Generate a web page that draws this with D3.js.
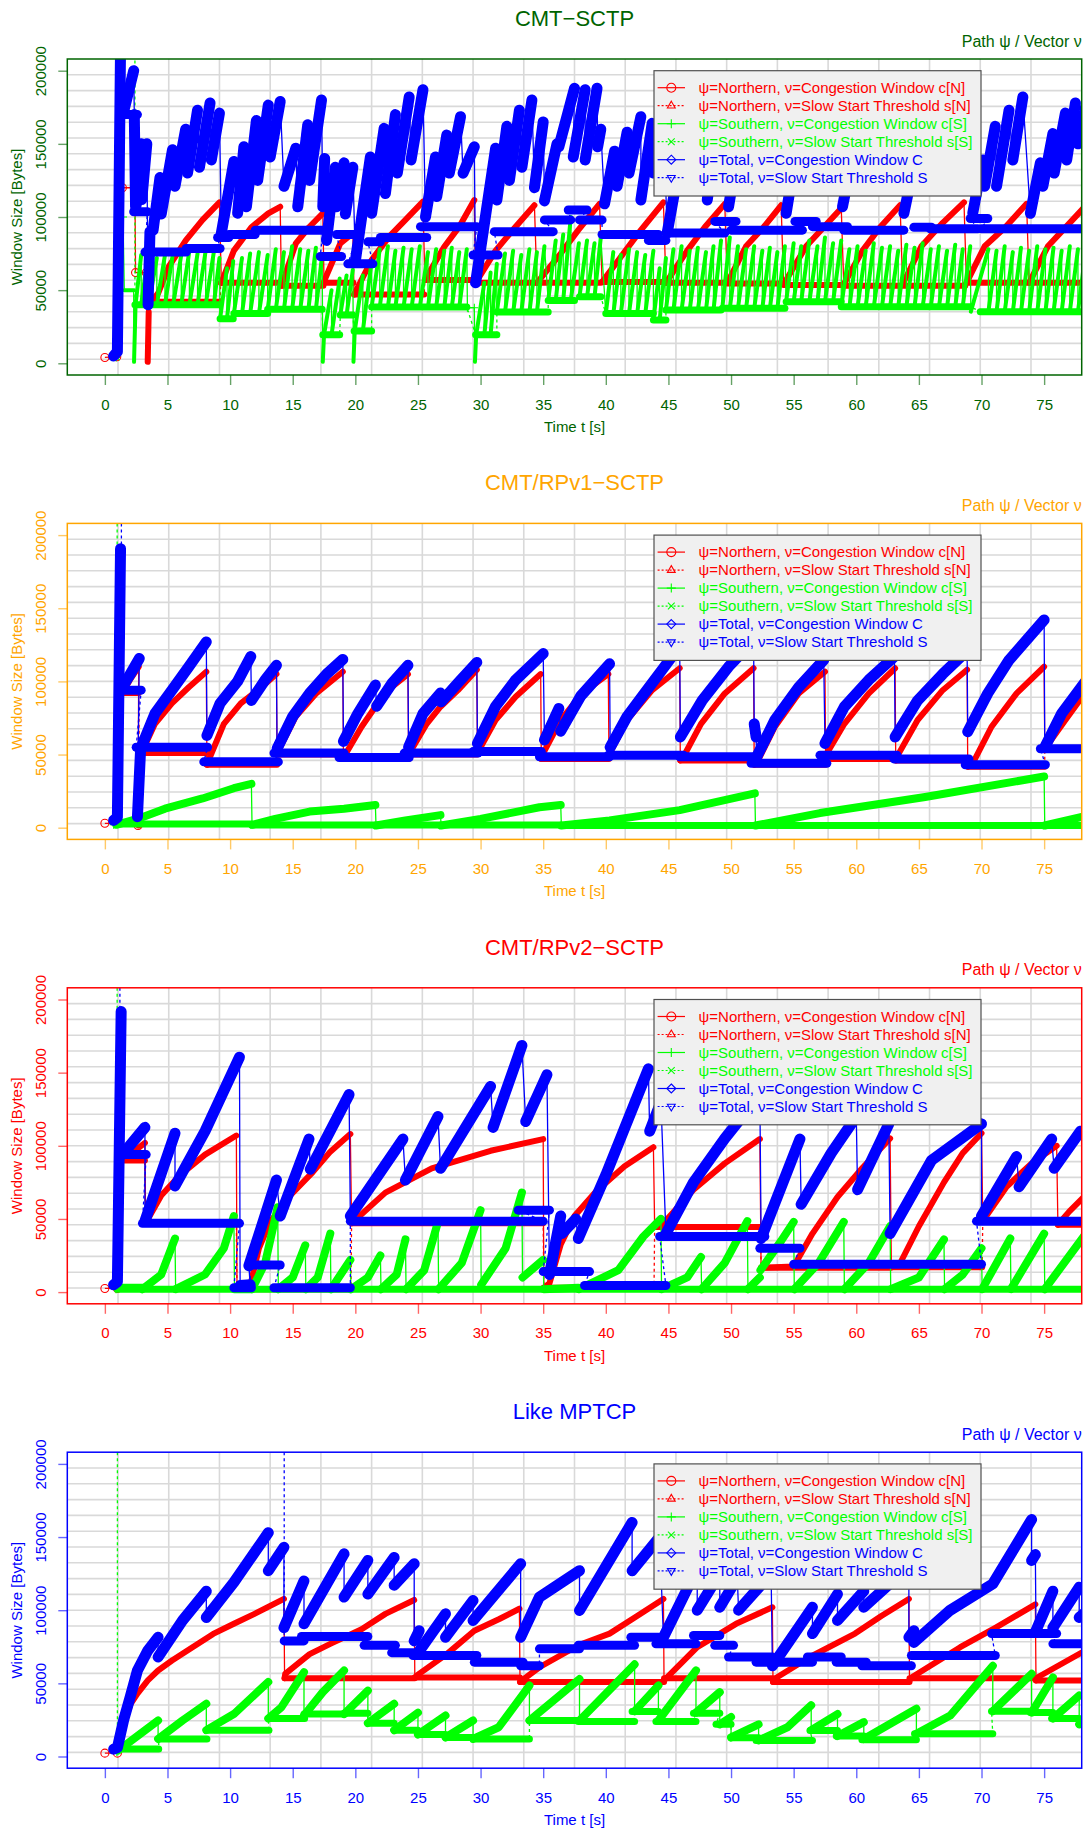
<!DOCTYPE html>
<html>
<head>
<meta charset="utf-8">
<title>Congestion window comparison</title>
<script src="https://cdn.jsdelivr.net/npm/d3@7"></script>
<style>
  body { margin: 0; background: #fff; }
</style>
</head>
<body>
<div id="chart"></div>
<script>
// axis ticks and labels
var timeTicks = [0, 5, 10, 15, 20, 25, 30, 35, 40, 45, 50, 55, 60, 65, 70, 75];
var sizeTicks = [0, 50000, 100000, 150000, 200000];
var legendLabels = [
  "\u03c8=Northern, \u03bd=Congestion Window c[N]",
  "\u03c8=Northern, \u03bd=Slow Start Threshold s[N]",
  "\u03c8=Southern, \u03bd=Congestion Window c[S]",
  "\u03c8=Southern, \u03bd=Slow Start Threshold s[S]",
  "\u03c8=Total, \u03bd=Congestion Window C",
  "\u03c8=Total, \u03bd=Slow Start Threshold S"
];
var panelTitles = ["CMT\u2212SCTP", "CMT/RPv1\u2212SCTP", "CMT/RPv2\u2212SCTP", "Like MPTCP"];
var panelColors = ["#006400", "#ffa500", "#ff0000", "#0000ff"];

// each series: list of runs of [time, bytes]; runs are joined by thin lines

// ---------- CMT-SCTP ----------
var cmtNorthCwnd = [
  [[0, 4000]], [[0.95, 4500]], [[1.35, 215000]], [[1.4, 120000]], [[2.4, 120000]],
  [[2.45, 62000]], [[3.3, 62000]],
  [[3.42, 1000], [3.5, 35000]],
  [[3.7, 42000], [4.26, 48000], [5.1, 66000], [6.46, 84000], [7.8, 98000], [9.15, 110000]],
  [[9.3, 55000], [10.3, 77000], [11.7, 93000], [13.05, 102500], [14.0, 107000]],
  [[14.1, 53000], [15.25, 82000], [16.3, 93000], [17.4, 102500]],
  [[17.5, 56000], [18.8, 82000], [19.8, 89000]],
  [[19.9, 47000], [21.3, 70600], [22.7, 86600], [24.0, 98000], [25.4, 110500]],
  [[25.55, 57000], [27.1, 79700], [28.3, 93400], [29.5, 111600]],
  [[29.6, 55000], [31.2, 77000], [32.8, 93400], [34.3, 108000]],
  [[34.5, 55000], [36.4, 75000], [37.8, 91000], [39.5, 109000]],
  [[39.7, 55500], [41.4, 75000], [42.8, 91000], [44.6, 110000]],
  [[44.8, 55000], [46.5, 77000], [47.9, 93000], [49.5, 109000]],
  [[49.7, 55000], [51.2, 80000], [52.6, 93000], [54.0, 108000]],
  [[54.2, 54000], [56.0, 80000], [57.4, 93000], [58.8, 106000]],
  [[59.0, 54000], [60.5, 77000], [61.9, 93000], [63.5, 108000]],
  [[63.7, 54000], [65.2, 80000], [66.9, 96000], [68.6, 110000]],
  [[68.8, 55000], [70.25, 80000], [71.9, 93000], [73.6, 109000]],
  [[73.8, 55000], [75.3, 80000], [78.3, 107500]]
];
var cmtNorthSsthresh = [
  [[3.5, 42000], [9.2, 42000]],
  [[9.25, 55000], [14.05, 55000]],
  [[14.1, 53000], [17.45, 53000]],
  [[17.5, 55000], [19.85, 55000]],
  [[19.9, 47000], [25.5, 47000]],
  [[25.55, 57000], [29.55, 57000]],
  [[29.6, 55000], [39.6, 55000]],
  [[39.7, 55500], [44.7, 55500]],
  [[44.8, 55000], [49.6, 55000]],
  [[49.7, 54500], [54.1, 54500]],
  [[54.2, 53500], [58.9, 53500]],
  [[59.0, 53000], [68.7, 53000]],
  [[68.8, 55000], [78.5, 55000]]
];
var cmtSouthCwnd = [
  [[0.9, 4000]],
  [[0.95, 5000], [1.2, 215000]],
  [[1.45, 100000]],
  [[1.55, 50000], [2.3, 50000]],
  [[2.33, 1000], [2.45, 40000], [2.9, 74000]],
  [[2.9, 40000], [3.5, 78000]], [[3.5, 40000], [4.15, 72000]], [[4.15, 40000], [4.8, 74000]],
  [[4.8, 40000], [5.45, 76000]], [[5.45, 40000], [6.1, 74000]], [[6.1, 40000], [6.75, 77000]],
  [[6.75, 40000], [7.4, 75000]], [[7.4, 40000], [8.05, 77000]], [[8.05, 40000], [8.7, 76000]],
  [[8.7, 40000], [9.15, 72000]],
  [[9.2, 30500], [9.75, 65000]], [[9.75, 30500], [10.25, 70000]],
  [[10.3, 34000], [10.95, 72000]], [[10.95, 34000], [11.6, 75000]], [[11.6, 34000], [12.3, 76000]],
  [[12.3, 34000], [13.0, 74000]],
  [[13.0, 37000], [13.65, 78000]], [[13.65, 37000], [14.3, 76000]], [[14.3, 37000], [14.95, 80000]],
  [[14.95, 37000], [15.6, 78000]], [[15.6, 37000], [16.25, 77000]], [[16.25, 37000], [16.85, 79000]],
  [[16.85, 37000], [17.35, 74000]],
  [[17.4, 1000], [17.5, 19500], [18.1, 50000]], [[18.1, 19500], [18.75, 58000]],
  [[18.8, 33000], [19.3, 60000]], [[19.3, 33000], [19.8, 64000]],
  [[19.85, 1000], [19.95, 22000], [20.6, 60000]], [[20.6, 22000], [21.3, 70000]],
  [[21.3, 38500], [21.95, 78000]], [[21.95, 38500], [22.6, 80000]], [[22.6, 38500], [23.2, 77000]],
  [[23.2, 38500], [23.85, 79000]], [[23.85, 38500], [24.5, 78000]], [[24.5, 38500], [25.15, 80000]],
  [[25.15, 38500], [25.8, 76000]], [[25.8, 38500], [26.45, 78000]], [[26.45, 38500], [27.1, 77000]],
  [[27.1, 38500], [27.7, 79000]], [[27.7, 38500], [28.3, 76000]], [[28.3, 38500], [28.9, 78000]],
  [[28.95, 38000]], [[29.5, 38000]],
  [[29.55, 1000], [29.65, 19500], [30.3, 55000]], [[30.3, 19500], [30.8, 62000]], [[30.8, 19500], [31.3, 68000]],
  [[31.3, 35000], [31.95, 75000]], [[31.95, 35000], [32.6, 77000]], [[32.6, 35000], [33.25, 74000]],
  [[33.25, 35000], [33.9, 78000]], [[33.9, 35000], [34.5, 76000]], [[34.5, 35000], [35.1, 80000]],
  [[35.4, 43000], [36.0, 84000]], [[36.0, 43000], [36.6, 88000]], [[36.6, 43000], [37.2, 100000]],
  [[37.2, 43000], [37.85, 82000]],
  [[37.9, 45500], [38.5, 84000]], [[38.5, 45500], [39.1, 82000]], [[39.1, 45500], [39.6, 86000]],
  [[40.0, 34000], [40.6, 76000]], [[40.6, 34000], [41.2, 74000]], [[41.2, 34000], [41.85, 78000]],
  [[41.85, 34000], [42.5, 76000]], [[42.5, 34000], [43.15, 74000]], [[43.15, 34000], [43.8, 77000]],
  [[43.8, 29600], [44.3, 65000]], [[44.3, 29600], [44.8, 72000]],
  [[44.8, 36400], [45.4, 78000]], [[45.4, 36400], [46.05, 80000]], [[46.05, 36400], [46.7, 77000]],
  [[46.7, 36400], [47.35, 79000]], [[47.35, 36400], [48.0, 76000]], [[48.0, 36400], [48.6, 80000]],
  [[48.6, 36400], [49.2, 84000]],
  [[49.3, 37600], [49.9, 86000]], [[49.9, 37600], [50.55, 80000]], [[50.55, 37600], [51.2, 78000]],
  [[51.2, 37600], [51.85, 80000]], [[51.85, 37600], [52.5, 77000]], [[52.5, 37600], [53.1, 79000]],
  [[53.1, 37600], [53.7, 76000]], [[53.7, 37600], [54.3, 80000]],
  [[54.4, 42000], [55.0, 82000]], [[55.0, 42000], [55.6, 80000]], [[55.6, 42000], [56.25, 84000]],
  [[56.25, 42000], [56.9, 80000]], [[56.9, 42000], [57.5, 86000]], [[57.5, 42000], [58.15, 82000]],
  [[58.15, 42000], [58.8, 84000]],
  [[58.8, 38700], [59.45, 78000]], [[59.45, 38700], [60.1, 80000]], [[60.1, 38700], [60.75, 77000]],
  [[60.75, 38700], [61.4, 82000]], [[61.4, 38700], [62.05, 79000]], [[62.05, 38700], [62.7, 80000]],
  [[62.7, 38700], [63.35, 77000]], [[63.35, 38700], [64.0, 81000]], [[64.0, 38700], [64.65, 79000]],
  [[64.65, 38700], [65.3, 82000]], [[65.3, 38700], [65.95, 78000]], [[65.95, 38700], [66.6, 80000]],
  [[66.6, 38700], [67.25, 77000]], [[67.25, 38700], [67.9, 81000]], [[67.9, 38700], [68.5, 78000]],
  [[68.5, 38700], [69.1, 80000]],
  [[69.15, 35300], [70.55, 78000]], [[70.55, 35300], [71.2, 77000]], [[71.2, 35300], [71.85, 80000]],
  [[71.85, 35300], [72.5, 76000]], [[72.5, 35300], [73.15, 79000]], [[73.15, 35300], [73.8, 77000]],
  [[73.8, 35300], [74.45, 80000]], [[74.45, 35300], [75.1, 78000]], [[75.1, 35300], [75.75, 79000]],
  [[75.75, 35300], [76.4, 77000]], [[76.4, 35300], [77.05, 80000]], [[77.05, 35300], [77.7, 78000]],
  [[77.7, 35300], [78.35, 79000]]
];
var cmtSouthSsthresh = [
  [[0.95, 4000]], [[2.3, 1e8]],
  [[2.4, 40000], [9.15, 40000]],
  [[9.2, 30500], [10.25, 30500]],
  [[10.3, 34000], [13.0, 34000]],
  [[13.0, 37000], [17.35, 37000]],
  [[17.4, 19500], [18.75, 19500]],
  [[18.8, 33000], [19.8, 33000]],
  [[19.9, 22000], [21.3, 22000]],
  [[21.3, 38500], [28.9, 38500]],
  [[29.6, 19500], [31.3, 19500]],
  [[31.3, 35000], [35.4, 35000]],
  [[35.4, 43000], [37.5, 43000]],
  [[37.9, 45500], [39.6, 45500]],
  [[40.0, 34000], [43.8, 34000]],
  [[43.8, 29600], [44.8, 29600]],
  [[44.8, 36400], [49.2, 36400]],
  [[49.3, 37600], [54.3, 37600]],
  [[54.4, 42000], [58.8, 42000]],
  [[58.8, 38700], [69.1, 38700]],
  [[69.9, 35300], [78.5, 35300]]
];
var cmtTotalCwnd = [
  [[0.7, 5000], [1.0, 8000], [1.25, 215000]],
  [[1.5, 172000], [2.3, 200000]],
  [[2.35, 170000], [2.45, 107000]],
  [[2.5, 108000], [2.9, 150000]],
  [[2.95, 112000], [3.35, 150000]],
  [[3.45, 40000], [3.6, 90000]],
  [[3.85, 91000], [4.4, 127000]],
  [[4.5, 102000], [5.4, 146000]],
  [[5.6, 121000], [6.45, 160000]],
  [[6.6, 130000], [7.4, 173000]],
  [[7.55, 134000], [8.4, 178000]],
  [[8.5, 139000], [9.15, 171000]],
  [[9.3, 89000], [10.3, 138000]],
  [[10.6, 102500], [11.1, 148000]],
  [[11.3, 107000], [12.1, 166000]],
  [[12.2, 125000], [13.05, 176500]],
  [[13.2, 141000], [14.0, 179000]],
  [[14.3, 121000], [15.25, 147000]],
  [[15.4, 107000], [16.2, 163000]],
  [[16.35, 125000], [17.3, 180000]],
  [[17.4, 107000], [17.55, 140000]],
  [[17.7, 84000], [18.4, 134000]],
  [[18.5, 107000], [19.1, 137000]],
  [[19.2, 102000], [19.8, 134000]],
  [[20.0, 70000], [21.2, 141000]],
  [[21.3, 102500], [22.3, 160600]],
  [[22.4, 116000], [23.2, 170000]],
  [[23.35, 130000], [24.3, 182000]],
  [[24.45, 139000], [25.4, 187000]],
  [[25.6, 100000], [26.4, 141000]],
  [[26.5, 114000], [27.3, 156000]],
  [[27.5, 130000], [28.4, 168600]],
  [[28.6, 130000], [29.5, 148000]],
  [[29.6, 55000], [31.2, 147000]],
  [[31.3, 111600], [32.1, 162000]],
  [[32.3, 125000], [33.1, 173000]],
  [[33.3, 134000], [34.1, 180000]],
  [[34.3, 120000], [35.0, 165000]],
  [[35.1, 111000], [36.1, 150000]],
  [[36.25, 148000], [37.5, 188000]],
  [[37.4, 141000], [38.35, 187000]],
  [[38.35, 139000], [39.3, 188000]],
  [[39.35, 148000], [39.6, 160000]],
  [[39.9, 109000], [40.7, 145000]],
  [[40.9, 121000], [41.7, 158000]],
  [[41.85, 130000], [42.8, 168600]],
  [[42.8, 111600], [43.7, 164000]],
  [[43.8, 130000], [44.6, 170000]],
  [[44.9, 89000], [46.2, 151000]],
  [[46.2, 121000], [47.0, 164000]],
  [[47.1, 125000], [48.0, 165000]],
  [[48.1, 111600], [49.0, 166000]],
  [[49.0, 130000], [49.6, 162000]],
  [[49.8, 107000], [50.7, 152600]],
  [[50.9, 121000], [51.8, 159000]],
  [[51.9, 130000], [52.9, 168600]],
  [[53.0, 134000], [54.0, 165000]],
  [[54.4, 102500], [55.3, 150000]],
  [[55.4, 121000], [56.3, 162000]],
  [[56.4, 134000], [57.2, 166000]],
  [[57.4, 139000], [58.6, 170000]],
  [[58.9, 107000], [59.75, 143500]],
  [[59.9, 121000], [60.7, 159000]],
  [[60.9, 130000], [61.7, 165000]],
  [[61.85, 139000], [62.7, 170000]],
  [[62.8, 135000], [63.5, 165000]],
  [[63.8, 102500], [64.8, 143500]],
  [[64.8, 121000], [65.6, 152600]],
  [[65.8, 134000], [66.6, 160000]],
  [[66.9, 141000], [67.7, 171000]],
  [[67.8, 140000], [68.6, 170000]],
  [[69.3, 102500], [70.1, 139000]],
  [[70.25, 121000], [71.1, 162000]],
  [[71.2, 121000], [72.2, 173000]],
  [[72.5, 139000], [73.3, 182000]],
  [[73.9, 102500], [74.7, 137000]],
  [[74.9, 121000], [75.7, 157000]],
  [[75.8, 130000], [76.7, 171000]],
  [[76.8, 139000], [77.5, 178000]],
  [[77.7, 150000], [78.3, 175000]]
];
var cmtTotalSsthresh = [
  [[1.3, 1e8]],
  [[1.4, 170000], [2.6, 170000]],
  [[2.3, 103600], [3.4, 103600]],
  [[3.2, 76000], [6.5, 76000]], [[6.5, 78500], [9.2, 78500]],
  [[9.0, 86000], [9.9, 86000]],
  [[9.9, 88000], [12.0, 88000]],
  [[12.0, 91000], [17.4, 91000]],
  [[17.2, 73000], [18.9, 73000]],
  [[18.5, 88000], [20.2, 88000]],
  [[19.4, 68000], [21.4, 68000]],
  [[21.0, 83000], [22.0, 83000]], [[22.0, 86000], [25.7, 86000]],
  [[25.2, 93400], [29.7, 93400]],
  [[29.4, 74000], [31.4, 74000]],
  [[31.1, 90000], [35.8, 90000]],
  [[35.1, 98000], [37.2, 98000]],
  [[37.0, 104800], [38.5, 104800]],
  [[37.9, 98000], [39.7, 98000]],
  [[39.7, 88000], [44.2, 88000]],
  [[43.4, 84000], [44.8, 84000]],
  [[44.8, 89000], [49.5, 89000]],
  [[48.7, 97000], [50.4, 97000]],
  [[50.0, 91000], [55.7, 91000]],
  [[55.1, 97000], [56.8, 97000]],
  [[56.5, 93400], [59.3, 93400]],
  [[59.0, 91000], [63.8, 91000]],
  [[64.6, 93000], [66.0, 93000]],
  [[65.9, 92000], [69.7, 92000]],
  [[69.1, 99000], [70.5, 99000]],
  [[70.0, 92000], [78.5, 92000]]
];

// ---------- CMT/RPv1-SCTP ----------
var rpv1NorthCwnd = [
  [[0, 3000]], [[1.0, 3000]],
  [[1.0, 4000], [1.3, 185000]],
  [[1.4, 92000], [2.0, 101000], [2.7, 110000]],
  [[2.65, 1500]],
  [[2.7, 1500], [2.85, 48000]],
  [[2.9, 50800], [4.0, 71000], [5.35, 85000], [6.7, 96000], [8.1, 106600]],
  [[8.15, 43000], [8.4, 48500], [9.5, 71000], [10.85, 85000], [12.5, 96000], [13.7, 105000]],
  [[13.75, 50000], [14.0, 55000], [15.25, 76000], [16.9, 92000], [19.0, 106600]],
  [[19.05, 47000], [19.4, 53000], [20.5, 69000], [21.6, 82700], [22.9, 96000], [24.2, 105000]],
  [[24.25, 50000], [24.6, 55000], [25.7, 71000], [26.8, 82700], [28.2, 94000], [29.7, 108000]],
  [[29.75, 52000], [30.0, 55000], [31.2, 73600], [32.8, 89500], [34.8, 105000]],
  [[34.85, 47000], [35.0, 50800], [36.4, 73600], [38.1, 91800], [40.2, 105000]],
  [[40.25, 49600], [40.45, 53000], [41.7, 73600], [43.7, 94000], [45.9, 109000]],
  [[45.95, 46000], [46.2, 48500], [47.6, 71000], [49.5, 91800], [51.8, 109000]],
  [[51.85, 43000], [52.1, 45000], [53.5, 69000], [55.4, 91800], [57.5, 106600]],
  [[57.55, 47000], [57.8, 53000], [59.05, 71000], [61.0, 91800], [63.1, 109000]],
  [[63.15, 46000], [63.4, 50800], [64.9, 73600], [66.9, 94000], [68.85, 108000]],
  [[68.9, 41700], [69.3, 44000], [70.8, 69000], [72.8, 91800], [75.0, 110000]],
  [[75.05, 54000], [75.15, 55000], [76.7, 73600], [78.3, 92500]]
];
var rpv1NorthSsthresh = [
  [[1.4, 92000], [2.7, 92000]],
  [[2.75, 51000], [8.1, 51000]],
  [[8.15, 43000], [13.75, 43000]],
  [[13.75, 50000], [19.05, 50000]],
  [[19.05, 47000], [24.25, 47000]],
  [[24.25, 50000], [29.75, 50000]],
  [[29.75, 52000], [34.85, 52000]],
  [[34.85, 47000], [40.25, 47000]],
  [[40.25, 49600], [45.95, 49600]],
  [[45.95, 46000], [51.85, 46000]],
  [[51.85, 43000], [57.55, 43000]],
  [[57.55, 47000], [63.15, 47000]],
  [[63.15, 46000], [68.9, 46000]],
  [[68.9, 41700], [75.05, 41700]],
  [[75.05, 54000], [78.5, 54000]]
];
var rpv1SouthCwnd = [
  [[0.7, 2000]],
  [[0.9, 2000], [2.6, 6000], [4.8, 13000], [7.8, 20000], [10.3, 27000], [11.7, 30000]],
  [[11.75, 2000], [13.6, 6000], [16.35, 11000], [19.1, 13000], [21.6, 15500]],
  [[21.65, 1500], [24.0, 5000], [26.8, 8600]],
  [[26.85, 1500], [30.0, 6000], [34.7, 14000], [36.4, 15500]],
  [[36.45, 1500], [40.3, 5000], [45.9, 12000], [51.9, 23500]],
  [[51.95, 1500], [57.1, 10000], [65.5, 21000], [75.0, 35000]],
  [[75.05, 1500], [78.3, 8000]]
];
var rpv1SouthSsthresh = [
  [[0.96, 1e8]],
  [[0.98, 2500], [11.7, 2500]],
  [[11.75, 1800], [36.4, 1800]],
  [[36.45, 1500], [78.5, 1500]]
];
var rpv1TotalCwnd = [
  [[0.7, 5000], [1.0, 7000], [1.25, 190700]],
  [[1.4, 96000], [2.1, 106000], [2.75, 115700]],
  [[2.6, 7500], [2.85, 53000]],
  [[2.9, 55000], [4.0, 78000], [5.35, 94000], [6.7, 110000], [8.1, 127000]],
  [[8.15, 63000], [9.2, 85000], [10.6, 100000], [11.65, 117000]],
  [[11.7, 87000], [12.8, 101000], [13.7, 111000]],
  [[13.75, 54000], [15.0, 76000], [16.35, 92000], [17.7, 105000], [19.0, 115000]],
  [[19.05, 59000], [20.2, 78000], [21.6, 97500]],
  [[21.7, 83000], [22.95, 99000], [24.2, 111000]],
  [[24.25, 55000], [25.4, 78000], [26.8, 92000]],
  [[26.85, 86000], [28.2, 99000], [29.7, 113000]],
  [[29.75, 57600], [31.2, 83000], [32.8, 101000], [35.0, 119000]],
  [[35.1, 60000], [36.25, 81500]],
  [[36.4, 66000], [38.0, 90000], [40.3, 112000]],
  [[40.35, 55000], [41.7, 76000], [43.1, 92000], [44.5, 108000], [45.9, 124000]],
  [[45.95, 62000], [47.7, 87000], [49.8, 110000], [51.8, 128000]],
  [[51.85, 71000], [52.0, 62000]],
  [[52.05, 48500], [53.5, 73600], [55.4, 96000], [57.4, 114600]],
  [[57.5, 57600], [59.05, 82700], [61.0, 101000], [63.05, 117000]],
  [[63.1, 62000], [64.9, 87000], [66.9, 105000], [68.85, 121000]],
  [[68.9, 65600], [70.5, 91800], [72.2, 114600], [75.0, 142000]],
  [[75.05, 55000], [76.4, 78000], [78.3, 100000]]
];
var rpv1TotalSsthresh = [
  [[1.3, 1e8]],
  [[1.32, 94000], [2.9, 94000]],
  [[2.5, 55000], [8.2, 55000]],
  [[7.9, 45000], [13.85, 45000]],
  [[13.5, 51000], [19.1, 51000]],
  [[18.7, 48000], [24.3, 48000]],
  [[23.9, 51000], [29.8, 51000]],
  [[29.4, 52000], [34.85, 52000]],
  [[34.7, 48500], [40.3, 48500]],
  [[40.2, 49600], [46.2, 49600]],
  [[45.9, 48500], [51.8, 48500]],
  [[51.6, 44000], [57.65, 44000]],
  [[57.1, 49600], [63.25, 49600]],
  [[63.0, 47000], [69.0, 47000]],
  [[68.7, 43000], [75.1, 43000]],
  [[74.7, 54000], [78.5, 54000]]
];

// ---------- CMT/RPv2-SCTP ----------
var rpv2NorthCwnd = [
  [[0, 2500]], [[1.0, 2500]],
  [[1.0, 3000], [1.3, 185000]],
  [[1.4, 90000], [3.2, 102000]],
  [[3.25, 47000], [4.5, 66000], [6.0, 80000], [8.0, 94000], [10.5, 107000]],
  [[10.55, 2000], [11.5, 2500]],
  [[11.6, 4000], [12.3, 30000], [13.2, 48000], [14.8, 66000], [16.6, 82000], [18.0, 96000], [19.6, 108000]],
  [[19.7, 47000], [22.4, 68000], [26.1, 84600], [30.8, 96600], [35.0, 104600]],
  [[35.05, 3000], [35.5, 6000], [36.4, 32600], [37.5, 52000], [39.2, 68600], [41.5, 86000], [43.8, 99000]],
  [[43.9, 44500], [44.8, 49000], [47.0, 70000], [49.5, 88000], [52.3, 104600]],
  [[52.4, 16600], [55.0, 17500], [56.5, 40000], [58.5, 65000], [60.5, 85000], [62.7, 105000]],
  [[62.8, 17000], [63.4, 18000], [65.0, 45000], [67.0, 75000], [68.5, 95000], [70.0, 108600]],
  [[70.1, 48500], [72.0, 72000], [74.0, 88000], [76.0, 100000]],
  [[76.1, 46000], [77.0, 55000], [78.5, 68000]]
];
var rpv2NorthSsthresh = [
  [[1.4, 90000], [3.2, 90000]],
  [[3.25, 47000], [10.5, 47000]],
  [[10.55, 2000], [19.65, 2000]],
  [[19.7, 47000], [35.0, 47000]],
  [[35.05, 3000], [43.85, 3000]],
  [[43.9, 44500], [52.35, 44500]],
  [[52.4, 16600], [62.75, 16600]],
  [[62.8, 17000], [70.05, 17000]],
  [[70.1, 48500], [76.05, 48500]],
  [[76.1, 46000], [78.5, 46000]]
];
var rpv2SouthCwnd = [
  [[0.9, 2000]],
  [[1.0, 3000], [3.0, 3000]],
  [[3.0, 2000], [4.5, 12000], [5.6, 36600]],
  [[5.65, 2000], [8.0, 12000], [9.5, 30000], [10.3, 52000]],
  [[10.35, 2000], [11.7, 2000]],
  [[11.75, 2000], [12.8, 20000], [13.8, 58000]],
  [[13.85, 2000], [15.0, 10000], [16.0, 32000]],
  [[16.05, 2000], [17.0, 10000], [18.0, 40000]],
  [[18.05, 2000], [19.6, 22000]],
  [[19.65, 2000], [21.0, 10000], [22.0, 25000]],
  [[22.05, 2000], [23.3, 12000], [24.0, 36000]],
  [[24.05, 2000], [25.5, 15000], [26.6, 48000]],
  [[26.65, 2000], [28.5, 20000], [30.0, 56000]],
  [[30.05, 5000], [32.0, 30000], [33.3, 68000]],
  [[33.35, 10000], [35.0, 22000]],
  [[35.05, 2000], [37.8, 3000]],
  [[37.85, 2000], [41.0, 15000], [43.0, 38000], [44.4, 50000]],
  [[44.45, 2000], [46.5, 10000], [47.6, 24000]],
  [[47.65, 2000], [49.5, 20000], [51.3, 48500]],
  [[51.35, 2000], [52.3, 10000]],
  [[52.35, 15000], [54.0, 35000], [55.0, 48000]],
  [[55.05, 2000], [57.0, 20000], [59.0, 48000]],
  [[59.05, 2000], [61.0, 20000], [62.7, 45000]],
  [[62.75, 2000], [65.0, 10000], [67.0, 36000]],
  [[67.05, 2000], [68.5, 12000], [70.0, 30000]],
  [[70.05, 2000], [72.3, 36600]],
  [[72.35, 2000], [75.0, 40000]],
  [[75.05, 2000], [78.5, 42000]]
];
var rpv2SouthSsthresh = [
  [[0.96, 1e8]],
  [[0.98, 2000], [78.5, 2000]]
];
var rpv2TotalCwnd = [
  [[0.7, 5000], [1.0, 7000], [1.3, 191800]],
  [[1.4, 94000], [3.2, 112600]],
  [[3.2, 48500], [5.6, 108600]],
  [[5.6, 72600], [8.0, 110000], [10.75, 160600]],
  [[10.8, 4500], [11.6, 5000]],
  [[11.5, 18000], [13.7, 76600]],
  [[14.0, 52000], [16.3, 104600]],
  [[16.4, 84000], [19.5, 135000]],
  [[19.6, 52000], [23.8, 104600]],
  [[24.0, 76600], [26.6, 120000]],
  [[26.8, 84600], [30.8, 140600]],
  [[31.0, 112600], [33.3, 168600]],
  [[33.6, 116600], [35.3, 148600]],
  [[35.5, 12000], [36.4, 52000]],
  [[36.5, 40000], [37.6, 50000]],
  [[37.8, 36600], [40.0, 80000], [43.4, 152600]],
  [[43.5, 110000], [44.4, 130000]],
  [[44.8, 40000], [47.0, 75000], [49.5, 105000], [52.3, 135000]],
  [[52.4, 36600], [55.5, 104600]],
  [[55.6, 60000], [58.0, 95000], [60.0, 120000]],
  [[60.1, 70000], [62.6, 115000]],
  [[62.7, 40000], [66.0, 90000], [70.0, 115000]],
  [[70.0, 52000], [72.8, 92600]],
  [[73.0, 72000], [75.6, 104600]],
  [[75.8, 84600], [77.9, 110000]]
];
var rpv2TotalSsthresh = [
  [[1.3, 1e8]],
  [[1.2, 94000], [3.3, 94000]],
  [[3.0, 47000], [10.75, 47000]],
  [[10.3, 3000], [11.7, 3000]],
  [[11.5, 18500], [14.0, 18500]],
  [[13.5, 3000], [19.6, 3000]],
  [[19.6, 48500], [35.0, 48500]],
  [[33.0, 56000], [35.5, 56000]],
  [[35.0, 14000], [38.7, 14000]],
  [[38.3, 4500], [44.8, 4500]],
  [[44.3, 38000], [52.7, 38000]],
  [[52.3, 30000], [55.5, 30000]],
  [[55.0, 19000], [70.0, 19000]],
  [[69.6, 48500], [78.5, 48500]]
];

// ---------- Like MPTCP ----------
var mptcpNorthCwnd = [
  [[0, 2300]], [[1.0, 2300]],
  [[1.05, 4000], [1.4, 20000], [2.06, 36000], [2.6, 43000], [3.43, 52000], [4.25, 58800], [5.36, 65600],
   [7.0, 74700], [8.65, 83800], [10.3, 90700], [11.95, 97500], [14.3, 107700]],
  [[14.35, 53500], [14.4, 56500], [16.35, 70000], [18.0, 77000], [20.5, 87000], [22.4, 97500], [24.7, 107000]],
  [[24.75, 54000], [25.0, 56000], [27.3, 70000], [29.5, 86000], [31.5, 94000], [33.1, 101000]],
  [[33.15, 51000], [34.7, 61000], [37.8, 76000], [40.3, 84000], [42.5, 96000], [44.6, 107700]],
  [[44.65, 52000], [47.3, 74700], [50.4, 90700], [53.3, 102000]],
  [[53.35, 51000], [53.45, 53000], [56.3, 68000], [59.9, 84000], [62.0, 96000], [64.2, 107700]],
  [[64.25, 52000], [64.4, 54000], [68.3, 74700], [71.1, 88000], [74.3, 104000]],
  [[74.35, 52000], [74.45, 54000], [78.3, 72500]]
];
var mptcpNorthSsthresh = [
  [[14.35, 53500], [24.75, 53500]],
  [[24.75, 54000], [33.15, 54000]],
  [[33.15, 51000], [44.65, 51000]],
  [[44.65, 53500], [53.35, 53500]],
  [[53.35, 51000], [64.25, 51000]],
  [[64.25, 53500], [74.35, 53500]],
  [[74.35, 52000], [78.5, 52000]]
];
var mptcpSouthCwnd = [
  [[0.96, 3000]],
  [[1.05, 4000], [2.6, 14000], [4.25, 24600]],
  [[4.25, 12000], [6.2, 24600], [8.1, 36000]],
  [[8.1, 18000], [10.3, 29000], [13.05, 51000]],
  [[13.05, 26000], [14.1, 33700], [15.9, 57600]],
  [[15.9, 28000], [17.4, 44000], [19.1, 58800]],
  [[19.1, 29000], [21.0, 45000]],
  [[21.0, 22800], [23.1, 36000]],
  [[23.1, 18000], [25.0, 30000]],
  [[25.0, 15000], [27.2, 28000]],
  [[27.2, 13000], [29.4, 24600]],
  [[29.4, 12000], [31.45, 20000], [33.9, 48500]],
  [[33.9, 24600], [37.9, 53000]],
  [[37.9, 24600], [42.3, 63000]],
  [[42.3, 31000], [44.2, 48500]],
  [[44.2, 24600], [47.2, 58800]],
  [[47.2, 30000], [49.1, 44000]],
  [[49.1, 22000], [50.0, 27000]],
  [[50.0, 13000], [52.2, 22000]],
  [[52.2, 11000], [54.5, 20000], [56.4, 35000]],
  [[56.4, 18000], [58.5, 29000]],
  [[58.5, 14000], [60.6, 23500]],
  [[60.6, 12000], [64.8, 32600]],
  [[64.8, 15500], [67.5, 28000], [70.9, 62000]],
  [[70.9, 31000], [74.0, 56500]],
  [[74.0, 30000], [75.7, 54000]],
  [[75.7, 26000], [77.8, 41700]],
  [[77.8, 22000], [78.5, 26000]]
];
var mptcpSouthSsthresh = [
  [[0.98, 1e8]],
  [[1.0, 5200], [4.3, 5200]],
  [[4.3, 12000], [8.15, 12000]],
  [[8.1, 18000], [13.1, 18000]],
  [[13.05, 26000], [15.95, 26000]],
  [[15.9, 29000], [19.15, 29000]],
  [[19.1, 29600], [21.0, 29600]],
  [[21.0, 22800], [23.1, 22800]],
  [[23.1, 18000], [25.0, 18000]],
  [[25.0, 15000], [27.2, 15000]],
  [[27.2, 13000], [29.4, 13000]],
  [[29.4, 12000], [33.9, 12000]],
  [[33.9, 24600], [37.9, 24600]],
  [[37.8, 24000], [42.3, 24000]],
  [[42.1, 30700], [44.2, 30700]],
  [[44.0, 24000], [47.2, 24000]],
  [[47.0, 29600], [49.1, 29600]],
  [[48.8, 22000], [50.0, 22000]],
  [[50.0, 12800], [52.2, 12800]],
  [[52.0, 11000], [56.5, 11000]],
  [[56.3, 17800], [58.5, 17800]],
  [[58.4, 14000], [60.6, 14000]],
  [[60.45, 11400], [64.8, 11400]],
  [[64.65, 15500], [70.9, 15500]],
  [[70.8, 31000], [74.0, 31000]],
  [[73.9, 30000], [75.7, 30000]],
  [[75.6, 26000], [77.8, 26000]],
  [[77.8, 22000], [78.5, 22000]]
];
var mptcpTotalCwnd = [
  [[0.7, 5000], [1.0, 6000], [1.5, 25000], [2.0, 40000], [2.6, 58800], [3.4, 72000], [4.25, 81500]],
  [[4.25, 68000], [6.2, 93000], [8.1, 113000]],
  [[8.1, 95000], [10.3, 119000], [13.05, 153000]],
  [[13.05, 127000], [14.3, 143000]],
  [[14.3, 88000], [15.9, 120000]],
  [[15.9, 90700], [19.1, 138500]],
  [[19.1, 109000], [21.0, 134000]],
  [[21.0, 111000], [23.1, 136000]],
  [[23.1, 117000], [24.7, 131700]],
  [[24.7, 79000], [25.1, 86000]],
  [[25.1, 72000], [27.2, 97500]],
  [[27.2, 81500], [29.4, 106600]],
  [[29.4, 93000], [33.2, 131700]],
  [[33.2, 81500], [34.7, 109000], [37.9, 127000]],
  [[37.9, 99800], [42.1, 160000]],
  [[42.1, 127000], [44.3, 150000]],
  [[44.6, 81500], [46.5, 114600], [47.3, 128000]],
  [[47.3, 100000], [49.1, 125000]],
  [[49.1, 102000], [50.5, 122000]],
  [[50.6, 100000], [53.2, 125000]],
  [[53.3, 62000], [56.5, 102000]],
  [[56.5, 84000], [58.5, 111000]],
  [[58.5, 93000], [60.6, 113000]],
  [[60.6, 102000], [64.2, 130000]],
  [[64.2, 81500], [64.6, 86000]],
  [[64.6, 78000], [67.5, 100000], [70.9, 118000], [74.0, 162000]],
  [[74.0, 134000], [74.3, 138000]],
  [[74.35, 86000], [75.7, 113000]],
  [[75.7, 88000], [77.8, 115700]],
  [[77.8, 95000], [78.5, 100000]]
];
var mptcpTotalSsthresh = [
  [[14.3, 1e8]],
  [[14.32, 79000], [15.9, 79000]],
  [[15.7, 82000], [21.0, 82000]],
  [[20.7, 76000], [23.2, 76000]],
  [[22.9, 71000], [24.9, 71000]],
  [[24.6, 69000], [29.7, 69000]],
  [[29.5, 64500], [33.4, 64500]],
  [[33.2, 62000], [34.7, 62000]],
  [[34.7, 73600], [37.9, 73600]],
  [[37.8, 76000], [42.3, 76000]],
  [[42.0, 81500], [44.2, 81500]],
  [[44.0, 77000], [47.2, 77000]],
  [[47.0, 82700], [49.1, 82700]],
  [[48.7, 76000], [50.2, 76000]],
  [[49.8, 68000], [53.3, 68000]],
  [[52.0, 64500], [56.5, 64500]],
  [[56.1, 68000], [58.8, 68000]],
  [[58.4, 64500], [60.8, 64500]],
  [[60.45, 62000], [64.4, 62000]],
  [[64.4, 69000], [71.1, 69000]],
  [[70.8, 84000], [76.0, 84000]],
  [[75.7, 77000], [78.5, 77000]]
];

var panelSeries = [
  [cmtNorthCwnd, cmtNorthSsthresh, cmtSouthCwnd, cmtSouthSsthresh, cmtTotalCwnd, cmtTotalSsthresh],
  [rpv1NorthCwnd, rpv1NorthSsthresh, rpv1SouthCwnd, rpv1SouthSsthresh, rpv1TotalCwnd, rpv1TotalSsthresh],
  [rpv2NorthCwnd, rpv2NorthSsthresh, rpv2SouthCwnd, rpv2SouthSsthresh, rpv2TotalCwnd, rpv2TotalSsthresh],
  [mptcpNorthCwnd, mptcpNorthSsthresh, mptcpSouthCwnd, mptcpSouthSsthresh, mptcpTotalCwnd, mptcpTotalSsthresh]
];

// line styles for the six vectors
var styles = [
  {color: "#ff0000", band: 6, dash: null, sym: "circle"},
  {color: "#ff0000", band: 6, dash: "3,3", sym: "up"},
  {color: "#00ff00", band: 8, dash: null, sym: "plus"},
  {color: "#00ff00", band: 7, dash: "3,3", sym: "times"},
  {color: "#0000ff", band: 11, dash: null, sym: "diamond"},
  {color: "#0000ff", band: 9, dash: "3,3", sym: "down"}
];
// the steep, crowded teeth of the first panel look thinner
var southBand = [4, 8, 8, 8];

var fontFamily = "'Liberation Sans', Arial, Helvetica, sans-serif";
var plotLeft = 67.3, plotRight = 1081.7, plotHeight = 316;
var firstTop = 59, panelPitch = 464.4;

var svg = d3.select("#chart").append("svg")
    .attr("width", 1089)
    .attr("height", 1832)
    .style("font-family", fontFamily);
svg.append("rect").attr("width", 1089).attr("height", 1832).attr("fill", "#fff");

var x = d3.scaleLinear().domain([-3, 78]).range([plotLeft, plotRight]);

function symbolPath(type, r) {
  var h = r * 0.87;
  if (type == "up") return "M0," + (-r) + "L" + h + "," + (r / 2) + "L" + (-h) + "," + (r / 2) + "Z";
  if (type == "down") return "M0," + r + "L" + h + "," + (-r / 2) + "L" + (-h) + "," + (-r / 2) + "Z";
  if (type == "plus") return "M" + (-r) + ",0H" + r + "M0," + (-r) + "V" + r;
  if (type == "times") { var q = r * 0.75; return "M" + (-q) + "," + (-q) + "L" + q + "," + q + "M" + (-q) + "," + q + "L" + q + "," + (-q); }
  if (type == "diamond") return "M0," + (-r) + "L" + r + ",0L0," + r + "L" + (-r) + ",0Z";
  return "M" + r + ",0A" + r + "," + r + " 0 1,1 " + (-r) + ",0A" + r + "," + r + " 0 1,1 " + r + ",0";
}

function drawSymbol(g, type, cx, cy, color, r) {
  g.append("path")
    .attr("d", symbolPath(type, r))
    .attr("transform", "translate(" + cx + "," + cy + ")")
    .attr("fill", "none")
    .attr("stroke", color)
    .attr("stroke-width", 1.1);
}

function drawSeries(g, runs, st, band, y) {
  var line = d3.line()
    .x(function(d) { return x(d[0]); })
    .y(function(d) { return y(d[1]); });
  var all = [].concat.apply([], runs);
  // thin connecting line
  g.append("path")
    .attr("d", line(all))
    .attr("fill", "none")
    .attr("stroke", st.color)
    .attr("stroke-width", 1.3)
    .attr("stroke-dasharray", st.dash);
  // dense markers look like a thick band
  runs.forEach(function(run) {
    if (run.length > 1) {
      g.append("path")
        .attr("d", line(run))
        .attr("fill", "none")
        .attr("stroke", st.color)
        .attr("stroke-width", band)
        .attr("stroke-linecap", "round")
        .attr("stroke-linejoin", "round");
    } else {
      drawSymbol(g, st.sym, x(run[0][0]), y(run[0][1]), st.color, 4);
    }
  });
}

panelSeries.forEach(function(series, k) {
  var top = firstTop + k * panelPitch;
  var color = panelColors[k];
  var y = d3.scaleLinear().domain([-8000, 208000]).range([top + plotHeight, top]);
  var g = svg.append("g");

  // grid
  var grid = g.append("g").attr("stroke", "#d9d9d9").attr("stroke-width", 1.6);
  d3.range(1, 20).forEach(function(i) {
    var gx = plotLeft + i * (plotRight - plotLeft) / 20;
    var gy = top + i * plotHeight / 20;
    grid.append("line").attr("x1", gx).attr("x2", gx).attr("y1", top).attr("y2", top + plotHeight);
    grid.append("line").attr("x1", plotLeft).attr("x2", plotRight).attr("y1", gy).attr("y2", gy);
  });

  // marks
  svg.append("clipPath").attr("id", "clip" + k)
    .append("rect")
      .attr("x", plotLeft).attr("y", top)
      .attr("width", plotRight - plotLeft).attr("height", plotHeight);
  var marks = g.append("g").attr("clip-path", "url(#clip" + k + ")");
  series.forEach(function(runs, i) {
    var band = i == 2 ? southBand[k] : styles[i].band;
    drawSeries(marks, runs, styles[i], band, y);
  });

  // frame
  g.append("rect")
    .attr("x", plotLeft).attr("y", top)
    .attr("width", plotRight - plotLeft).attr("height", plotHeight)
    .attr("fill", "none")
    .attr("stroke", color)
    .attr("stroke-width", 1.5);

  // x axis
  var xAxis = g.append("g")
    .attr("transform", "translate(0," + (top + plotHeight) + ")")
    .call(d3.axisBottom(x).tickValues(timeTicks).tickSize(10).tickPadding(14));
  xAxis.attr("font-family", null).attr("font-size", null);
  xAxis.select(".domain").remove();
  xAxis.selectAll("line").attr("stroke", color).attr("stroke-opacity", 0.6).attr("stroke-width", 1.4);
  xAxis.selectAll("text").attr("fill", color).style("font-size", "15px");

  // y axis
  var yAxis = g.append("g")
    .attr("transform", "translate(" + plotLeft + ",0)")
    .call(d3.axisLeft(y).tickValues(sizeTicks).tickSize(9).tickFormat(d3.format("d")));
  yAxis.attr("font-family", null).attr("font-size", null);
  yAxis.select(".domain").remove();
  yAxis.selectAll("line").attr("stroke", color).attr("stroke-opacity", 0.6).attr("stroke-width", 1.4);
  yAxis.selectAll("text")
    .attr("x", null).attr("dy", null)
    .attr("text-anchor", "middle")
    .attr("transform", "translate(-21.3,0) rotate(-90)")
    .attr("fill", color)
    .style("font-size", "15px");

  // titles
  g.append("text")
    .attr("x", (plotLeft + plotRight) / 2).attr("y", top - 33)
    .attr("text-anchor", "middle")
    .attr("fill", color)
    .style("font-size", "22px")
    .text(panelTitles[k]);
  g.append("text")
    .attr("x", plotRight).attr("y", top - 12.5)
    .attr("text-anchor", "end")
    .attr("fill", color)
    .style("font-size", "16px")
    .text("Path \u03c8 / Vector \u03bd");
  g.append("text")
    .attr("x", (plotLeft + plotRight) / 2).attr("y", top + 373)
    .attr("text-anchor", "middle")
    .attr("fill", color)
    .style("font-size", "15px")
    .text("Time t [s]");
  g.append("text")
    .attr("transform", "translate(21.5," + (top + plotHeight / 2) + ") rotate(-90)")
    .attr("text-anchor", "middle")
    .attr("fill", color)
    .style("font-size", "15px")
    .text("Window Size [Bytes]");

  // legend
  var lx = 654, ly = top + 11.7;
  var lg = g.append("g");
  lg.append("rect")
    .attr("x", lx).attr("y", ly)
    .attr("width", 327).attr("height", 125.3)
    .attr("fill", "#f0f0f0")
    .attr("stroke", "#505050")
    .attr("stroke-width", 1.2);
  legendLabels.forEach(function(label, i) {
    var st = styles[i];
    var cy = ly + 17 + i * 18;
    lg.append("line")
      .attr("x1", lx + 3.6).attr("x2", lx + 31)
      .attr("y1", cy).attr("y2", cy)
      .attr("stroke", st.color)
      .attr("stroke-width", 1.2)
      .attr("stroke-dasharray", st.dash ? "2,2" : null);
    drawSymbol(lg, st.sym, lx + 17.3, cy, st.color, 4.5);
    lg.append("text")
      .attr("x", lx + 44.6).attr("y", cy)
      .attr("dy", "0.35em")
      .attr("fill", st.color)
      .style("font-size", "15px")
      .text(label);
  });
});
</script>
</body>
</html>
